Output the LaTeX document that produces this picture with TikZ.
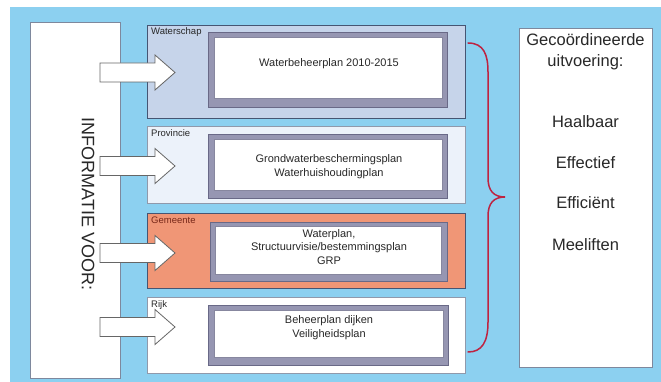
\documentclass[tikz,border=0pt]{standalone}
\usepackage{fontspec}
\setmainfont{Liberation Sans}
\definecolor{bg}{RGB}{140,208,240}
\definecolor{rowA}{RGB}{198,212,234}
\definecolor{rowB}{RGB}{236,242,250}
\definecolor{rowC}{RGB}{240,150,118}
\definecolor{framecol}{RGB}{105,105,135}
\definecolor{framefill}{RGB}{150,150,178}
\definecolor{rowline}{RGB}{70,85,115}
\definecolor{bracecol}{RGB}{190,35,65}
\definecolor{txt}{RGB}{40,40,40}
\definecolor{gemtxt}{RGB}{120,40,25}
\tikzset{
  rowbox/.style={draw=rowline, line width=0.8pt},
  sidebox/.style={draw=rowline!70, fill=white, line width=0.8pt},
  frameouter/.style={draw=framecol, fill=framefill, line width=0.8pt},
  frameinner/.style={draw=framecol!80, fill=white, line width=0.6pt},
  blockarrow/.style={draw=black!60, fill=white, line width=0.8pt, line join=miter},
  lbl/.style={anchor=west, inner sep=0pt, text=txt, font=\fontsize{9.5}{11}\selectfont},
  plantxt/.style={align=center, inner sep=0pt, text=txt, font=\fontsize{11}{13.5}\selectfont},
  righttxt/.style={inner sep=0pt, text=txt, font=\fontsize{16.5}{19}\selectfont},
  bracestyle/.style={draw=bracecol, line width=1.5pt, line cap=round}
}
\begin{document}
\begin{tikzpicture}[x=1pt,y=-1pt]
\useasboundingbox (0,0) rectangle (661,382);
\fill[white] (0,0) rectangle (661,382);
\fill[bg] (10,7) rectangle (661,382);

% left box
\draw[sidebox] (30,22) rectangle (120,378);
\node[rotate=-90, text=txt, inner sep=0pt, font=\fontsize{18}{21}\selectfont] (info) at (88,204) {INFORMATIE VOOR:};

% rows
\draw[rowbox, fill=rowA] (147,25) rectangle (465,118);
\draw[rowbox, fill=rowB, draw=rowline!60] (147,126) rectangle (465,203);
\draw[rowbox, fill=rowC] (147,213) rectangle (465,288);
\draw[rowbox, fill=white, draw=rowline!60] (147,297) rectangle (465,373);

% inner frames
\draw[frameouter] (208,32) rectangle (447,107);
\draw[frameinner] (214,37) rectangle (442,98);
\draw[frameouter] (208,134) rectangle (447,198);
\draw[frameinner] (214,139) rectangle (442,190);
\draw[frameouter] (210,222) rectangle (447,281);
\draw[frameinner] (215,226) rectangle (441,274);
\draw[frameouter] (208,305) rectangle (448,365);
\draw[frameinner] (214,310) rectangle (443,357);

% labels
\node[lbl] (lw) at (151,32) {Waterschap};
\node[lbl] (lp) at (151,133) {Provincie};
\node[lbl, text=gemtxt] (lg) at (151,220) {Gemeente};
\node[lbl] (lr) at (151,305) {Rijk};

% plan texts
\node[plantxt] (p1) at (329,64) {Waterbeheerplan 2010-2015};
\node[plantxt] (p2) at (329,166.5) {Grondwaterbeschermingsplan\\Waterhuishoudingplan};
\node[plantxt] (p3) at (329,247) {Waterplan,\\Structuurvisie/bestemmingsplan\\GRP};
\node[plantxt] (p4) at (329,327.5) {Beheerplan dijken\\Veiligheidsplan};

% block arrows
\foreach \yy in {72.5,166,253,327}{
  \draw[blockarrow] (100,\yy-9.5) -- (155,\yy-9.5) -- (155,\yy-17.5) -- (175,\yy)
    -- (155,\yy+17.5) -- (155,\yy+9.5) -- (100,\yy+9.5) -- cycle;
}

% brace
\coordinate (bt) at (468,43);
\coordinate (bm) at (505,197);
\coordinate (bb) at (468,352);
\draw[bracestyle] (bt) .. controls (484,43) and (488,55) .. (488,72)
  -- (488,178) .. controls (488,191) and (494,197) .. (bm)
  .. controls (494,197) and (488,203) .. (488,216)
  -- (488,322) .. controls (488,342) and (482,352) .. (bb);

% right box
\draw[sidebox] (519,28) rectangle (652,367);
\node[righttxt] (g1) at (585.5,40) {Gecoördineerde};
\node[righttxt] (g2) at (585.5,62) {uitvoering:};
\node[righttxt] (h1) at (585.5,122) {Haalbaar};
\node[righttxt] (h2) at (585.5,163) {Effectief};
\node[righttxt] (h3) at (585.5,203) {Efficiënt};
\node[righttxt] (h4) at (585.5,245) {Meeliften};
\end{tikzpicture}
\end{document}
